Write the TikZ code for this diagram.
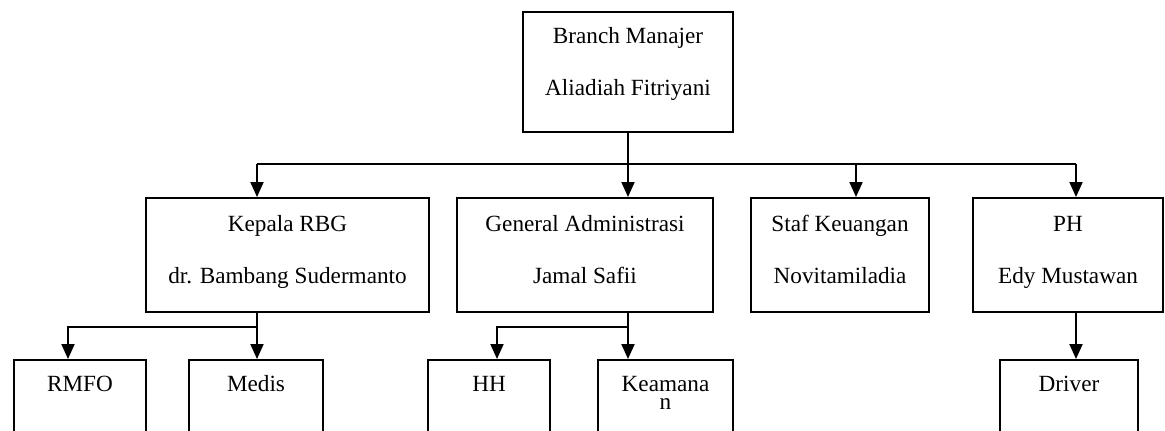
\documentclass[tikz,border=0pt]{standalone}
\usepackage{fontspec}
\setmainfont{Liberation Serif}
\usepackage{tikz}
\usetikzlibrary{arrows.meta}
\tikzstyle{box} = [draw=black, line width=1pt, align=center, inner sep=0pt,
 font=\fontsize{11.6}{26}\selectfont]
\tikzstyle{midbox} = [box, minimum height=57pt]
\tikzstyle{lowbox} = [box, anchor=north]
\tikzstyle{line} = [line width=1pt]
\tikzstyle{arrow} = [line width=1pt, -{Triangle[length=7.5pt,width=6.5pt]}]
\newcommand{\twolines}[2]{\rule{0pt}{16.5pt}#1\\#2\rule[-14.5pt]{0pt}{14.5pt}}
\newcommand{\lowtext}[1]{\rule{0pt}{15.5pt}#1\rule[-45pt]{0pt}{45pt}}

\begin{document}
\begin{tikzpicture}[x=0.5pt, y=-0.5pt]
	\useasboundingbox (0,0) rectangle (1165,430);
	\clip (0,0) rectangle (1165,430);
	% Kaestchen
	\node[box, minimum width=105pt] (bm) at (628,72) {\rule{0pt}{15.5pt}Branch Manajer\\Aliadiah Fitriyani\rule[-18.5pt]{0pt}{18.5pt}}; % Branch Manajer
	\node[midbox, minimum width=141.5pt] (kepala) at (287.5,255) {\twolines{Kepala RBG}{dr. Bambang Sudermanto}};
	\node[midbox, minimum width=128pt] (general) at (585,255) {\twolines{General Administrasi}{Jamal Safii}};
	\node[midbox, minimum width=89pt] (staf) at (840,255) {\twolines{Staf Keuangan}{Novitamiladia}};
	\node[midbox, minimum width=95pt] (ph) at (1068,255) {\twolines{PH}{Edy Mustawan}};
	\node[lowbox, minimum width=66pt] (rmfo) at (80,359) {\lowtext{RMFO}};
	\node[lowbox, minimum width=67pt] (medis) at (256,359) {\lowtext{Medis}};
	\node[lowbox, minimum width=61pt] (hh) at (489,359) {\lowtext{HH}};
	\node[lowbox, minimum width=67.5pt, font=\fontsize{11.6}{9}\selectfont] (keamanan) at (665.5,359) {\lowtext{Keamana\\n}};
	\node[lowbox, minimum width=69pt] (driver) at (1069,359) {\lowtext{Driver}};
	% Sammelleitungen
	\coordinate (busL) at (257,164); % links oben
	\coordinate (busS) at (856,164); % Staf
	\coordinate (busR) at (1076,164); % rechts oben
	\coordinate (subK) at (68,327); % unter Kepala
	\coordinate (subG) at (497,327); % unter General
	% Verbindungen
	\draw[line] (busL) -- (busR);
	\draw[arrow] (bm.south) -- (bm.south |- general.north);
	\draw[arrow] (busL) -- (busL |- kepala.north);
	\draw[arrow] (busS) -- (busS |- staf.north);
	\draw[arrow] (busR) -- (busR |- ph.north);
	\draw[arrow] (busL |- kepala.south) -- (busL |- medis.north);
	\draw[arrow] (busL |- subK) -- (subK) -- (subK |- rmfo.north);
	\draw[arrow] (bm.south |- general.south) -- (bm.south |- keamanan.north);
	\draw[arrow] (bm.south |- subG) -- (subG) -- (subG |- hh.north);
	\draw[arrow] (busR |- ph.south) -- (busR |- driver.north);
\end{tikzpicture}
\end{document}
